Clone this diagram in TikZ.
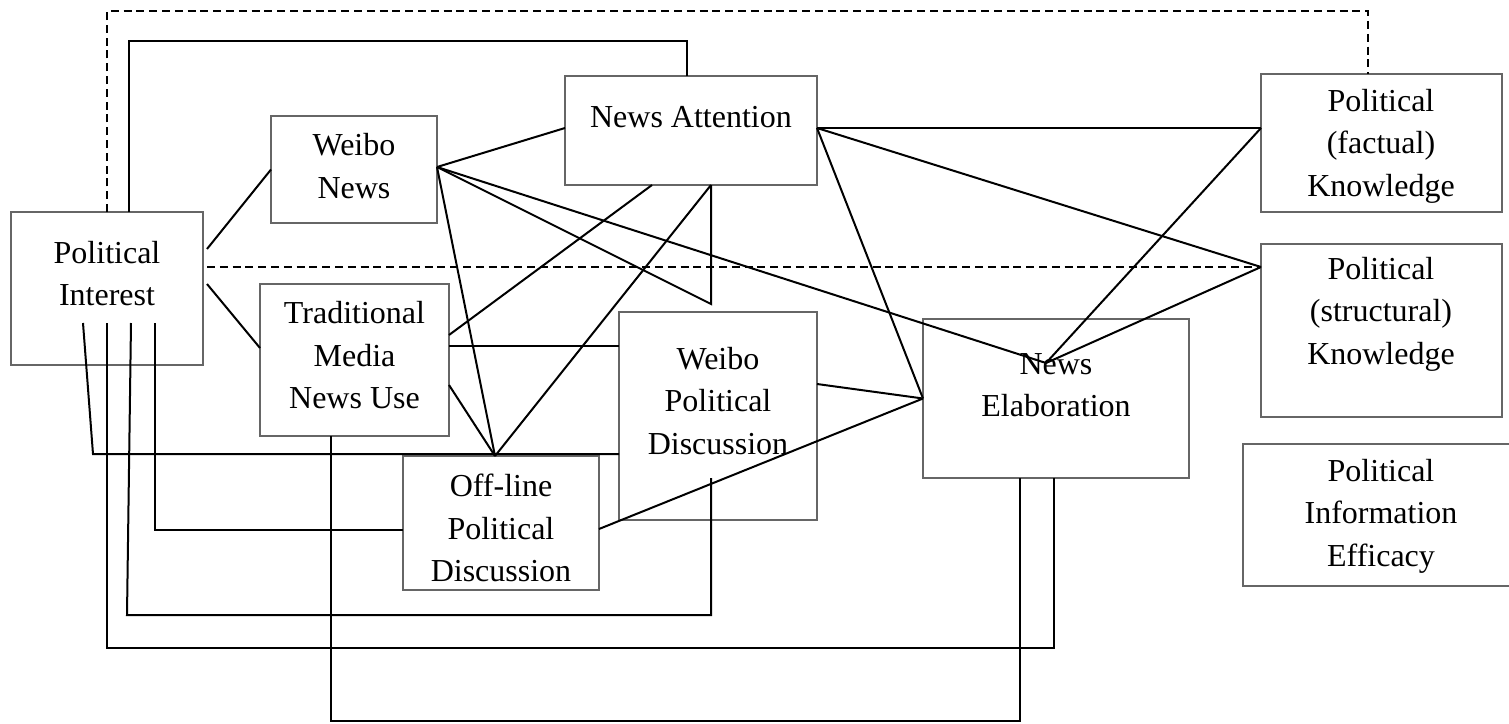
\documentclass[tikz,border=0pt]{standalone}
\usepackage{fontspec}
\setmainfont{Liberation Serif}
\usetikzlibrary{calc}
\tikzset{
  box/.style ={draw=black!60, line width=0.75pt, inner sep=0pt, outer sep=0pt},
  txt/.style ={align=center, inner sep=0pt, font=\fontsize{16}{21.25}\selectfont},
  link/.style={line width=1pt},
  dlink/.style={line width=1pt, dash pattern=on 4pt off 2.4pt},
}

\begin{document}
\begin{tikzpicture}[x=0.5pt, y=-0.5pt]
  \useasboundingbox (0,0) rectangle (1509,723);

  % boxes
  \node[box, minimum width=96pt,    minimum height=76.5pt] (pi)  at (107,288.5)    {};
  \node[box, minimum width=83pt,    minimum height=53.5pt] (wn)  at (354,169.5)    {};
  \node[box, minimum width=126pt,   minimum height=54.5pt] (na)  at (691,130.5)    {};
  \node[box, minimum width=94.5pt,  minimum height=76pt]   (tm)  at (354.5,360)    {};
  \node[box, minimum width=99pt,    minimum height=104pt]  (wpd) at (718,416)      {};
  \node[box, minimum width=98pt,    minimum height=67pt]   (opd) at (501,523)      {};
  \node[box, minimum width=133pt,   minimum height=79.5pt] (ne)  at (1056,398.5)   {};
  \node[box, minimum width=120.5pt, minimum height=69pt]   (pfk) at (1381.5,143)   {};
  \node[box, minimum width=120.5pt, minimum height=86.5pt] (psk) at (1381.5,330.5) {};
  \node[box, minimum width=134pt,   minimum height=71pt]   (pie) at (1377,515)     {};

  % box texts
  \node[txt] (pi-t)  at (107,273.5)  {Political\\Interest};
  \node[txt] (wn-t)  at (354,166)    {Weibo\\News};
  \node[txt] (na-t)  at (691,117)    {News Attention};
  \node[txt] (tm-t)  at (354.5,355.5){Traditional\\Media\\News Use};
  \node[txt] (wpd-t) at (718,401)    {Weibo\\Political\\Discussion};
  \node[txt] (opd-t) at (501,528)    {Off-line\\Political\\Discussion};
  \node[txt] (ne-t)  at (1056,385)   {News\\Elaboration};
  \node[txt] (pfk-t) at (1381,146)   {Political\\(factual)\\Knowledge};
  \node[txt] (psk-t) at (1381,314)   {Political\\(structural)\\Knowledge};
  \node[txt] (pie-t) at (1381,516)   {Political\\Information\\Efficacy};

  % shared end points
  \coordinate (na-out) at ([yshift=1.25pt]na.east);
  \coordinate (wn-out) at ([yshift=1.25pt]wn.east);
  \coordinate (ne-in)  at (ne.west);
  \coordinate (ne-hub) at ([xshift=-5pt,yshift=17.75pt]ne.center);
  \coordinate (pfk-in) at ([yshift=7.5pt]pfk.west);
  \coordinate (psk-in) at ([yshift=31.75pt]psk.west);
  \coordinate (opd-in) at ([xshift=-3pt]opd.north);
  \coordinate (na-s)   at ([xshift=10pt]na.south);
  \coordinate (wn-tip) at ([yshift=-59.5pt]na-s);

  % dashed paths
  \draw[dlink] (pi.north) |- (700,11) -| ([xshift=-6.75pt]pfk.north);
  \draw[dlink] ([xshift=2pt,yshift=10.75pt]pi.east) -- (psk-in);

  % political interest
  \draw[link] ([xshift=11pt]pi.north) |- (400,41) -| ([xshift=-2pt]na.north);
  \draw[link] ([xshift=2pt,yshift=19.75pt]pi.east) -- (wn.west);
  \draw[link] ([xshift=2pt,yshift=2.25pt]pi.east) -- ([yshift=6pt]tm.west);
  \draw[link] ([xshift=-12pt,yshift=21pt]pi.south) -- (93,454) -- ([yshift=-19pt]wpd.west);
  \draw[link] ([yshift=21pt]pi.south) |- (600,648) -| ([xshift=-1pt]ne.south);
  \draw[link] ([xshift=12pt,yshift=21pt]pi.south) -- (127,615) -| ([xshift=-3.5pt,yshift=21pt]wpd.south);
  \draw[link] ([xshift=24pt,yshift=21pt]pi.south) |- ([yshift=-3.5pt]opd.west);

  % weibo news
  \draw[link] (wn-out) -- ([yshift=1.25pt]na.west);
  \draw[link] (wn-out) -- (wn-tip) -- (na-s);
  \draw[link] (wn-out) -- (ne-hub);
  \draw[link] (wn-out) -- (opd-in);

  % traditional media
  \draw[link] ([yshift=12.5pt]tm.east) -- ([xshift=-19.5pt]na.south);
  \draw[link] ([yshift=7pt]tm.east) -- ([yshift=7pt]tm.east -| wpd.west);
  \draw[link] ([yshift=-12.5pt]tm.east) -- (opd-in);
  \draw[link] ([xshift=-11.75pt]tm.south) |- (700,721) -| ([xshift=-18pt]ne.south);

  % news attention
  \draw[link] (na-s) -- (opd-in);
  \draw[link] (na-out) -- (pfk-in);
  \draw[link] (na-out) -- (psk-in);
  \draw[link] (na-out) -- (ne-in);

  % discussion and knowledge
  \draw[link] ([yshift=16pt]wpd.east) -- (ne-in);
  \draw[link] ([yshift=-3pt]opd.east) -- (ne-in);
  \draw[link] (pfk-in) -- (ne-hub);
  \draw[link] (psk-in) -- (ne-hub);
\end{tikzpicture}
\end{document}
